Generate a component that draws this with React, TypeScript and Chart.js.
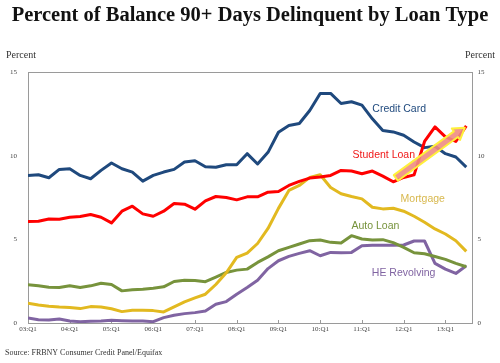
import React, { useEffect, useRef } from "react";
import { Chart, registerables } from "chart.js";

Chart.register(...registerables);

// Quarterly data, 03:Q1 .. 13:Q3 (43 quarters)
const tickLabels = ["03:Q1", "04:Q1", "05:Q1", "06:Q1", "07:Q1", "08:Q1", "09:Q1", "10:Q1", "11:Q1", "12:Q1", "13:Q1"];

const creditCard = [
  8.82, 8.86, 8.68, 9.18, 9.22, 8.82, 8.62, 9.12, 9.56, 9.22, 9.02, 8.48, 8.82, 9.02, 9.18, 9.62,
  9.7, 9.34, 9.31, 9.46, 9.46, 10.12, 9.5, 10.2, 11.4, 11.8, 11.92, 12.7, 13.72, 13.72, 13.12, 13.22,
  13.02, 12.2, 11.5, 11.42, 11.22, 10.82, 10.48, 10.56, 10.12, 9.92, 9.32,
];
const studentLoan = [
  6.06, 6.08, 6.22, 6.2, 6.32, 6.36, 6.48, 6.32, 5.98, 6.68, 6.98, 6.52, 6.38, 6.68, 7.14, 7.1,
  6.8, 7.3, 7.56, 7.5, 7.36, 7.54, 7.54, 7.82, 7.86, 8.22, 8.46, 8.66, 8.72, 8.82, 9.12, 9.08,
  8.92, 9.08, 8.78, 8.44, 8.7, 8.85, 10.85, 11.72, 11.12, 10.85, 11.78,
];
const mortgage = [
  1.18, 1.08, 1.0, 0.95, 0.92, 0.86, 0.98, 0.96, 0.85, 0.68, 0.76, 0.76, 0.74, 0.66, 0.96, 1.26,
  1.5, 1.72, 2.3, 3.0, 3.92, 4.18, 4.75, 5.65, 6.85, 7.92, 8.22, 8.7, 8.86, 8.1, 7.72, 7.56,
  7.42, 6.92, 6.82, 6.86, 6.68, 6.38, 6.02, 5.62, 5.32, 4.92, 4.28,
];
const autoLoan = [
  2.28, 2.22, 2.14, 2.12, 2.22, 2.12, 2.22, 2.38, 2.3, 1.92, 1.98, 2.02, 2.08, 2.16, 2.48, 2.56,
  2.54, 2.47, 2.74, 3.02, 3.16, 3.22, 3.62, 3.95, 4.32, 4.52, 4.72, 4.92, 4.96, 4.82, 4.78, 5.22,
  5.02, 4.96, 4.98, 4.8, 4.52, 4.2, 4.14, 3.97, 3.8, 3.56, 3.36,
];
const heRevolving = [
  0.3, 0.2, 0.18, 0.24, 0.12, 0.08, 0.1, 0.12, 0.16, 0.14, 0.12, 0.12, 0.08, 0.32, 0.46, 0.56,
  0.62, 0.72, 1.12, 1.28, 1.72, 2.12, 2.55, 3.25, 3.72, 3.98, 4.16, 4.32, 4.02, 4.22, 4.2, 4.22,
  4.62, 4.64, 4.64, 4.64, 4.66, 4.9, 4.9, 3.56, 3.22, 2.96, 3.42,
];

const seriesNames = ["Student Loan", "Credit Card", "Mortgage", "Auto Loan", "HE Revolving"];
const seriesColors = ["#FF0000", "#1F497D", "#E2B920", "#77933C", "#8064A2"];
const labelColors = ["#F01818", "#1F497D", "#D8B84E", "#77933C", "#8064A2"];
// in-plot label anchors (quarter index, percent)
const labelX = [31.1, 33.0, 35.7, 31.0, 32.95];
const labelY = [10.04, 12.77, 7.39, 5.82, 3.01];
// annotation arrow (quarter index, percent)
const arrowFrom = [35.25, 8.67];
const arrowTo = [41.86, 11.67];

const seriesValues = [studentLoan, creditCard, mortgage, autoLoan, heRevolving];

export default function App() {
  const ref = useRef<HTMLCanvasElement | null>(null);

  useEffect(() => {
    const canvas = ref.current;
    if (!canvas) return;

    const overlay = {
      id: "overlay",
      beforeDatasetsDraw(chart: any) {
        const ctx = chart.ctx;
        const a = chart.chartArea;
        const xs = chart.scales.x;
        ctx.save();
        ctx.strokeStyle = "#9a9a9a";
        ctx.lineWidth = 1;
        ctx.strokeRect(Math.round(a.left) + 0.5, Math.round(a.top) + 0.5, Math.round(a.right - a.left), Math.round(a.bottom - a.top));
        // inner tick marks on x axis
        ctx.beginPath();
        for (let i = 0; i < tickLabels.length; i++) {
          const px = Math.round(xs.getPixelForValue(i * 4)) + 0.5;
          ctx.moveTo(px, a.bottom);
          ctx.lineTo(px, a.bottom - 3);
        }
        ctx.stroke();
        ctx.restore();
      },
      afterDatasetsDraw(chart: any) {
        const ctx = chart.ctx;
        const xs = chart.scales.x;
        const ys = chart.scales.y;
        ctx.save();
        // series labels
        ctx.font = "10.5px 'Liberation Sans', Arial, sans-serif";
        ctx.textBaseline = "middle";
        ctx.textAlign = "left";
        for (let i = 0; i < seriesNames.length; i++) {
          ctx.fillStyle = labelColors[i];
          ctx.fillText(seriesNames[i], xs.getPixelForValue(labelX[i]), ys.getPixelForValue(labelY[i]));
        }
        // arrow
        const x0 = xs.getPixelForValue(arrowFrom[0]);
        const y0 = ys.getPixelForValue(arrowFrom[1]);
        const x1 = xs.getPixelForValue(arrowTo[0]);
        const y1 = ys.getPixelForValue(arrowTo[1]);
        const dx = x1 - x0, dy = y1 - y0;
        const len = Math.hypot(dx, dy);
        const ux = dx / len, uy = dy / len;
        const nx = -uy, ny = ux;
        const sw = 3.5, hw = 7, hl = 11;
        const bx = x1 - ux * hl, by = y1 - uy * hl;
        ctx.beginPath();
        ctx.moveTo(x0 + nx * sw, y0 + ny * sw);
        ctx.lineTo(bx + nx * sw, by + ny * sw);
        ctx.lineTo(bx + nx * hw, by + ny * hw);
        ctx.lineTo(x1, y1);
        ctx.lineTo(bx - nx * hw, by - ny * hw);
        ctx.lineTo(bx - nx * sw, by - ny * sw);
        ctx.lineTo(x0 - nx * sw, y0 - ny * sw);
        ctx.closePath();
        ctx.fillStyle = "rgba(238,140,130,0.9)";
        ctx.fill();
        ctx.strokeStyle = "#FFF03A";
        ctx.lineWidth = 2;
        ctx.lineJoin = "round";
        ctx.stroke();
        ctx.restore();
      },
      afterDraw(chart: any) {
        const ctx = chart.ctx;
        ctx.save();
        ctx.fillStyle = "#111";
        ctx.font = "bold 20.5px 'Liberation Serif', serif";
        ctx.textAlign = "center";
        ctx.textBaseline = "alphabetic";
        ctx.fillText("Percent of Balance 90+ Days Delinquent by Loan Type", 250, 21);
        ctx.fillStyle = "#333";
        ctx.font = "10px 'Liberation Serif', serif";
        ctx.textBaseline = "middle";
        ctx.textAlign = "left";
        ctx.fillText("Percent", 6, 55);
        ctx.textAlign = "right";
        ctx.fillText("Percent", 495, 55);
        ctx.textAlign = "left";
        ctx.font = "8px 'Liberation Serif', serif";
        ctx.fillText("Source: FRBNY Consumer Credit Panel/Equifax", 5, 353);
        ctx.restore();
      },
    };

    const tickFont = { family: "'Liberation Serif', serif", size: 7 };

    const chart = new Chart(canvas, {
      type: "line",
      data: {
        datasets: seriesNames.map((name, i) => ({
          label: name,
          data: seriesValues[i].map((v, k) => ({ x: k, y: v })),
          borderColor: seriesColors[i],
          backgroundColor: seriesColors[i],
          borderWidth: 3,
          pointRadius: 0,
          tension: 0,
          fill: false,
          borderJoinStyle: "round" as const,
        })),
      },
      options: {
        animation: false,
        responsive: false,
        devicePixelRatio: 1,
        layout: { padding: { top: 72, left: 0, right: 0, bottom: 0 } },
        plugins: { legend: { display: false }, tooltip: { enabled: false }, title: { display: false } },
        scales: {
          x: {
            type: "linear",
            min: 0,
            max: 42.5,
            grid: { display: false, drawTicks: false },
            border: { display: false },
            afterBuildTicks: (axis: any) => {
              axis.ticks = tickLabels.map((_, i) => ({ value: i * 4 }));
            },
            afterFit: (axis: any) => {
              axis.height = 40;
            },
            ticks: {
              autoSkip: false,
              maxRotation: 0,
              padding: 2,
              color: "#444",
              font: tickFont,
              callback: (value: any) => tickLabels[Math.round(Number(value) / 4)] ?? "",
            },
          },
          y: {
            position: "left",
            min: 0,
            max: 15,
            grid: { display: false, drawTicks: false },
            border: { display: false },
            afterFit: (axis: any) => {
              axis.width = 28;
            },
            ticks: { stepSize: 5, padding: 11, color: "#444", font: tickFont },
          },
          y2: {
            position: "right",
            min: 0,
            max: 15,
            grid: { display: false, drawTicks: false },
            border: { display: false },
            afterFit: (axis: any) => {
              axis.width = 28.5;
            },
            ticks: { stepSize: 5, padding: 6, color: "#444", font: tickFont },
          },
        },
      },
      plugins: [overlay],
    });

    return () => chart.destroy();
  }, []);

  return (
    <div style={{ position: "fixed", left: 0, top: 0, width: 500, height: 363, background: "#fff" }}>
      <canvas ref={ref} width={500} height={363} style={{ width: 500, height: 363, display: "block" }} />
    </div>
  );
}
